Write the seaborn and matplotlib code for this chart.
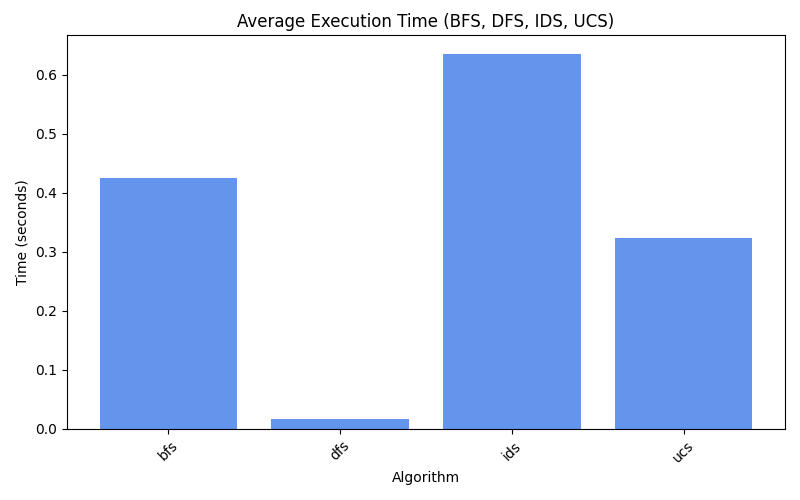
import matplotlib
matplotlib.use("Agg")
import matplotlib.pyplot as plt
import seaborn as sns
import pandas as pd

algorithms = ["bfs", "dfs", "ids", "ucs"]
times = [0.4254, 0.0170, 0.6356, 0.3237]

df = pd.DataFrame({"Algorithm": algorithms, "Time": times})

fig, ax = plt.subplots(figsize=(8, 5), dpi=100)
sns.barplot(data=df, x="Algorithm", y="Time", color="cornflowerblue", saturation=1, width=0.8, ax=ax)
ax.set_title("Average Execution Time (BFS, DFS, IDS, UCS)")
ax.set_xlabel("Algorithm")
ax.set_ylabel("Time (seconds)")
ax.set_xlim(-0.59, 3.59)
plt.xticks(rotation=45)
fig.subplots_adjust(left=0.08375, right=0.98125, top=0.93, bottom=0.142)
plt.savefig("out.png")
